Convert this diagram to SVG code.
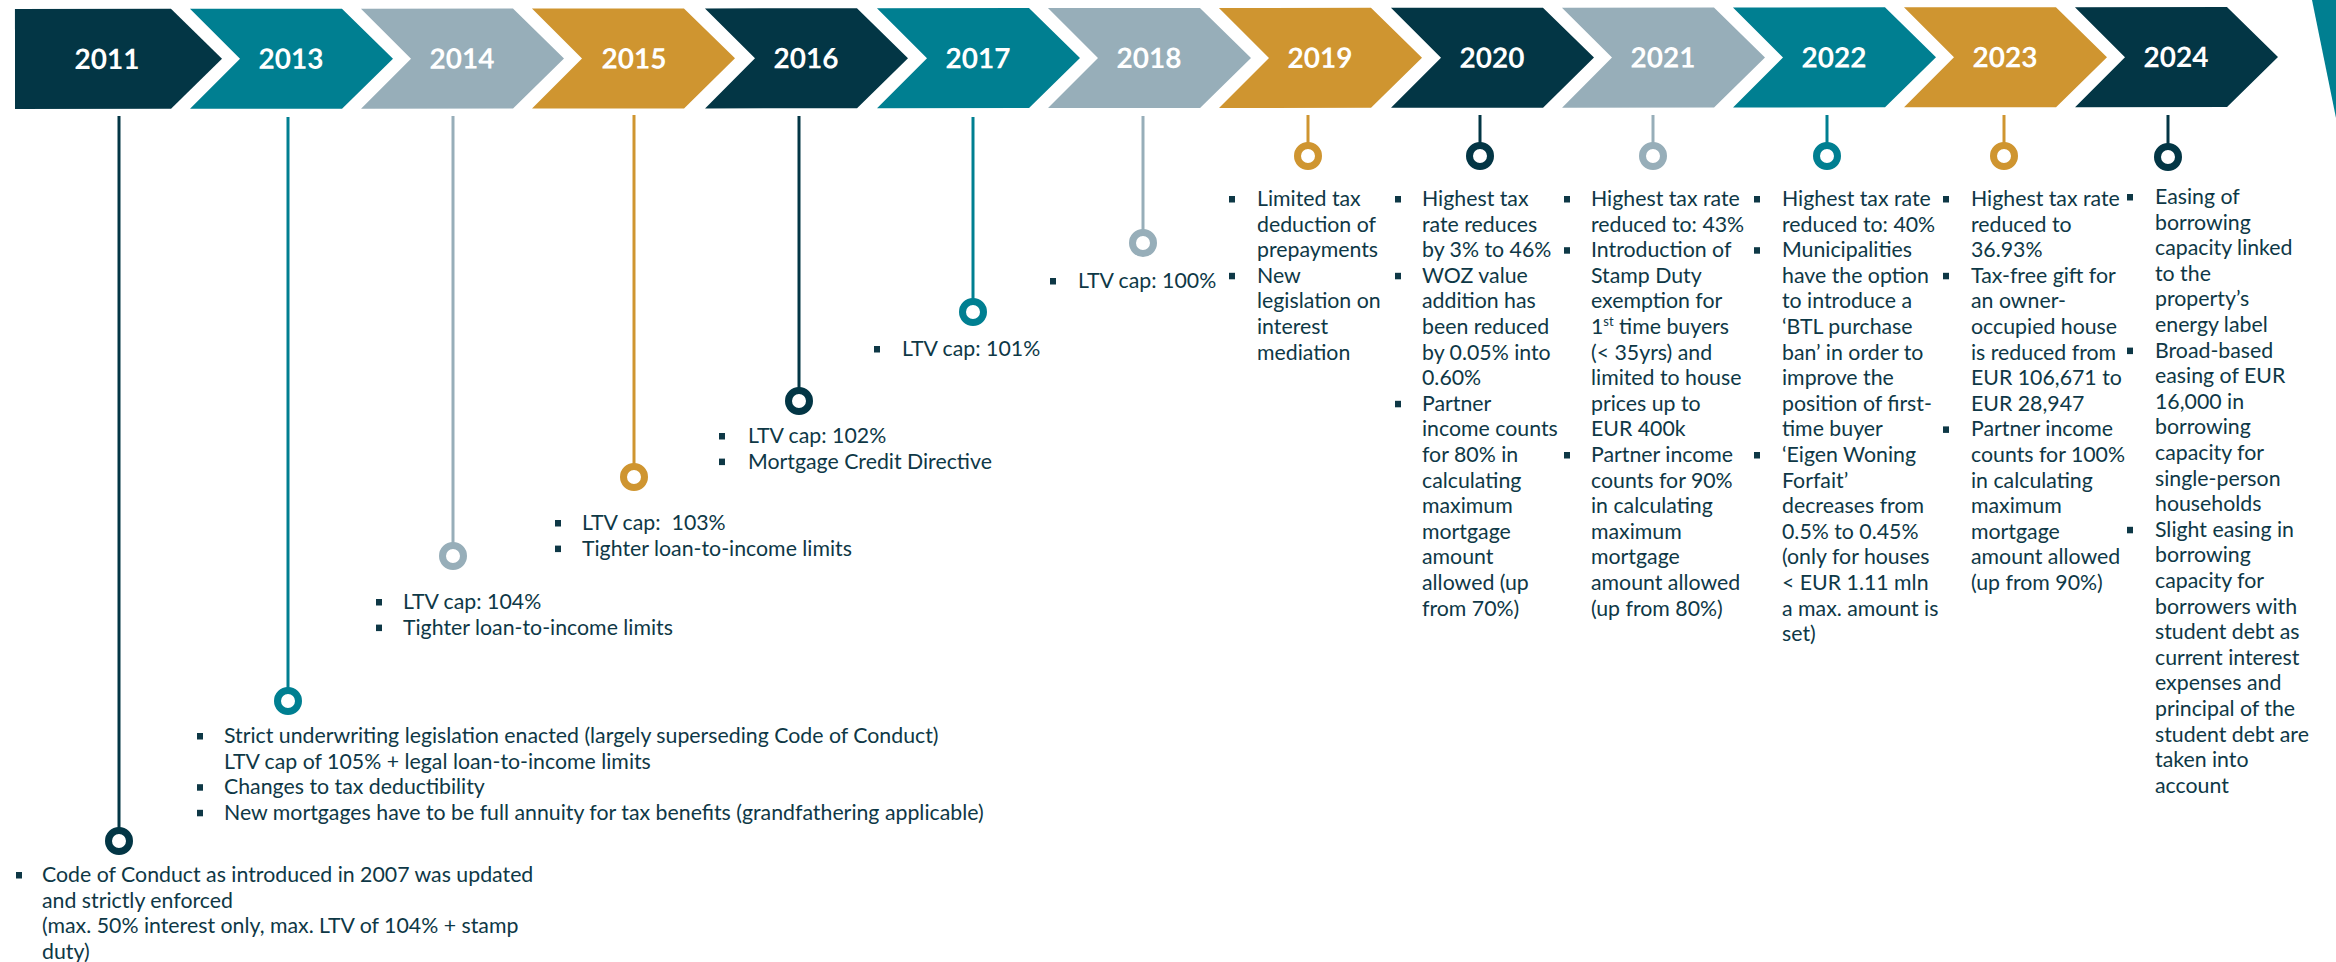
<svg xmlns="http://www.w3.org/2000/svg" width="2336" height="962" viewBox="0 0 2336 962">
<style>
.dk{fill:#033645}.tl{fill:#007F91}.gy{fill:#97AEB9}.gd{fill:#CF9530}
.sdk{stroke:#033645}.stl{stroke:#007F91}.sgy{stroke:#97AEB9}.sgd{stroke:#CF9530}
.yr{font-family:Lato,"Liberation Sans",sans-serif;font-weight:700;font-size:28px;fill:#ffffff;text-anchor:middle}
.t{font-family:Lato,"Liberation Sans",sans-serif;font-size:21.3px;fill:#0E3846}
.ring{fill:#ffffff;stroke-width:7}
.stem{stroke-width:3;fill:none}
.b{fill:#0E3846}
</style>
<rect width="2336" height="962" fill="#ffffff"/>
<polygon points="2312,0 2336,0 2336,118" class="tl"/>
<g id="banner" transform="rotate(-0.05 1150 58)">
<g id="y2011"><polygon class="dk" points="15,8 171,8 222,58 171,108 15,108"/><text class="yr" x="107" y="68">2011</text></g>
<g id="y2013"><polygon class="tl" points="190,8 342,8 393,58 342,108 190,108 240,58"/><text class="yr" x="291" y="68">2013</text></g>
<g id="y2014"><polygon class="gy" points="361,8 513,8 564,58 513,108 361,108 411,58"/><text class="yr" x="462" y="68">2014</text></g>
<g id="y2015"><polygon class="gd" points="532,8 684,8 735,58 684,108 532,108 582,58"/><text class="yr" x="634" y="68">2015</text></g>
<g id="y2016"><polygon class="dk" points="705,8 857,8 908,58 857,108 705,108 755,58"/><text class="yr" x="806" y="68">2016</text></g>
<g id="y2017"><polygon class="tl" points="877,8 1029,8 1080,58 1029,108 877,108 927,58"/><text class="yr" x="978" y="68">2017</text></g>
<g id="y2018"><polygon class="gy" points="1048,8 1200,8 1251,58 1200,108 1048,108 1098,58"/><text class="yr" x="1149" y="68">2018</text></g>
<g id="y2019"><polygon class="gd" points="1219,8 1371,8 1422,58 1371,108 1219,108 1269,58"/><text class="yr" x="1320" y="68">2019</text></g>
<g id="y2020"><polygon class="dk" points="1391,8 1543,8 1594,58 1543,108 1391,108 1441,58"/><text class="yr" x="1492" y="68">2020</text></g>
<g id="y2021"><polygon class="gy" points="1562,8 1714,8 1765,58 1714,108 1562,108 1612,58"/><text class="yr" x="1663" y="68">2021</text></g>
<g id="y2022"><polygon class="tl" points="1733,8 1885,8 1936,58 1885,108 1733,108 1783,58"/><text class="yr" x="1834" y="68">2022</text></g>
<g id="y2023"><polygon class="gd" points="1904,8 2056,8 2107,58 2056,108 1904,108 1954,58"/><text class="yr" x="2005" y="68">2023</text></g>
<g id="y2024"><polygon class="dk" points="2075,8 2227,8 2278,58 2227,108 2075,108 2125,58"/><text class="yr" x="2176" y="68">2024</text></g>
</g>
<g id="connectors">
<line class="stem sdk" x1="119" y1="116" x2="119" y2="830"/>
<line class="stem stl" x1="288" y1="117" x2="288" y2="690"/>
<line class="stem sgy" x1="453" y1="116" x2="453" y2="545"/>
<line class="stem sgd" x1="634" y1="115" x2="634" y2="466"/>
<line class="stem sdk" x1="799" y1="116" x2="799" y2="390"/>
<line class="stem stl" x1="973" y1="117" x2="973" y2="301"/>
<line class="stem sgy" x1="1143" y1="116" x2="1143" y2="232"/>
<line class="stem sgd" x1="1308" y1="115" x2="1308" y2="145"/>
<line class="stem sdk" x1="1480" y1="115" x2="1480" y2="145"/>
<line class="stem sgy" x1="1653" y1="115" x2="1653" y2="145"/>
<line class="stem stl" x1="1827" y1="115" x2="1827" y2="145"/>
<line class="stem sgd" x1="2004" y1="115" x2="2004" y2="145"/>
<line class="stem sdk" x1="2168" y1="115" x2="2168" y2="146"/>
</g>
<g id="e2011">
<circle class="ring sdk" cx="119" cy="841" r="10.5"/>
<rect class="b" x="16" y="872" width="6" height="6.5"/>
<text class="t"><tspan x="42" y="882">Code of Conduct as introduced in 2007 was updated</tspan><tspan x="42" y="907.6">and strictly enforced</tspan><tspan x="42" y="933.2">(max. 50% interest only, max. LTV of 104% + stamp</tspan><tspan x="42" y="958.8">duty)</tspan></text>
</g>
<g id="e2013">
<circle class="ring stl" cx="288" cy="701" r="10.5"/>
<rect class="b" x="197" y="733" width="6" height="6.5"/>
<rect class="b" x="197" y="784.2" width="6" height="6.5"/>
<rect class="b" x="197" y="809.8" width="6" height="6.5"/>
<text class="t"><tspan x="224" y="743">Strict underwriting legislation enacted (largely superseding Code of Conduct)</tspan><tspan x="224" y="768.6">LTV cap of 105% + legal loan-to-income limits</tspan><tspan x="224" y="794.2">Changes to tax deductibility</tspan><tspan x="224" y="819.8">New mortgages have to be full annuity for tax benefits (grandfathering applicable)</tspan></text>
</g>
<g id="e2014">
<circle class="ring sgy" cx="453" cy="556" r="10.5"/>
<rect class="b" x="376" y="599" width="6" height="6.5"/>
<rect class="b" x="376" y="624.6" width="6" height="6.5"/>
<text class="t"><tspan x="403" y="609">LTV cap: 104%</tspan><tspan x="403" y="634.6">Tighter loan-to-income limits</tspan></text>
</g>
<g id="e2015">
<circle class="ring sgd" cx="634" cy="477" r="10.5"/>
<rect class="b" x="555" y="520" width="6" height="6.5"/>
<rect class="b" x="555" y="545.6" width="6" height="6.5"/>
<text class="t" xml:space="preserve"><tspan x="582" y="530">LTV cap:  103%</tspan><tspan x="582" y="555.6">Tighter loan-to-income limits</tspan></text>
</g>
<g id="e2016">
<circle class="ring sdk" cx="799" cy="401" r="10.5"/>
<rect class="b" x="719" y="433" width="6" height="6.5"/>
<rect class="b" x="719" y="458.6" width="6" height="6.5"/>
<text class="t"><tspan x="748" y="443">LTV cap: 102%</tspan><tspan x="748" y="468.6">Mortgage Credit Directive</tspan></text>
</g>
<g id="e2017">
<circle class="ring stl" cx="973" cy="312" r="10.5"/>
<rect class="b" x="874" y="346" width="6" height="6.5"/>
<text class="t"><tspan x="902" y="356">LTV cap: 101%</tspan></text>
</g>
<g id="e2018">
<circle class="ring sgy" cx="1143" cy="243" r="10.5"/>
<rect class="b" x="1050" y="278" width="6" height="6.5"/>
<text class="t"><tspan x="1078" y="288">LTV cap: 100%</tspan></text>
</g>
<g id="e2019">
<circle class="ring sgd" cx="1308" cy="156" r="10.5"/>
<rect class="b" x="1229" y="196" width="6" height="6.5"/>
<rect class="b" x="1229" y="272.8" width="6" height="6.5"/>
<text class="t"><tspan x="1257" y="206">Limited tax</tspan><tspan x="1257" y="231.6">deduction of</tspan><tspan x="1257" y="257.2">prepayments</tspan><tspan x="1257" y="282.8">New</tspan><tspan x="1257" y="308.4">legislation on</tspan><tspan x="1257" y="334">interest</tspan><tspan x="1257" y="359.6">mediation</tspan></text>
</g>
<g id="e2020">
<circle class="ring sdk" cx="1480" cy="156" r="10.5"/>
<rect class="b" x="1395" y="196" width="6" height="6.5"/>
<rect class="b" x="1395" y="272.8" width="6" height="6.5"/>
<rect class="b" x="1395" y="400.8" width="6" height="6.5"/>
<text class="t"><tspan x="1422" y="206">Highest tax</tspan><tspan x="1422" y="231.6">rate reduces</tspan><tspan x="1422" y="257.2">by 3% to 46%</tspan><tspan x="1422" y="282.8">WOZ value</tspan><tspan x="1422" y="308.4">addition has</tspan><tspan x="1422" y="334">been reduced</tspan><tspan x="1422" y="359.6">by 0.05% into</tspan><tspan x="1422" y="385.2">0.60%</tspan><tspan x="1422" y="410.8">Partner</tspan><tspan x="1422" y="436.4">income counts</tspan><tspan x="1422" y="462">for 80% in</tspan><tspan x="1422" y="487.6">calculating</tspan><tspan x="1422" y="513.2">maximum</tspan><tspan x="1422" y="538.8">mortgage</tspan><tspan x="1422" y="564.4">amount</tspan><tspan x="1422" y="590">allowed (up</tspan><tspan x="1422" y="615.6">from 70%)</tspan></text>
</g>
<g id="e2021">
<circle class="ring sgy" cx="1653" cy="156" r="10.5"/>
<rect class="b" x="1564" y="196" width="6" height="6.5"/>
<rect class="b" x="1564" y="247.2" width="6" height="6.5"/>
<rect class="b" x="1564" y="452" width="6" height="6.5"/>
<text class="t"><tspan x="1591" y="206">Highest tax rate</tspan><tspan x="1591" y="231.6">reduced to: 43%</tspan><tspan x="1591" y="257.2">Introduction of</tspan><tspan x="1591" y="282.8">Stamp Duty</tspan><tspan x="1591" y="308.4">exemption for</tspan><tspan x="1591" y="334">1</tspan><tspan font-size="13" dy="-8">st</tspan><tspan dy="8"> time buyers</tspan><tspan x="1591" y="359.6">(&lt; 35yrs) and</tspan><tspan x="1591" y="385.2">limited to house</tspan><tspan x="1591" y="410.8">prices up to</tspan><tspan x="1591" y="436.4">EUR 400k</tspan><tspan x="1591" y="462">Partner income</tspan><tspan x="1591" y="487.6">counts for 90%</tspan><tspan x="1591" y="513.2">in calculating</tspan><tspan x="1591" y="538.8">maximum</tspan><tspan x="1591" y="564.4">mortgage</tspan><tspan x="1591" y="590">amount allowed</tspan><tspan x="1591" y="615.6">(up from 80%)</tspan></text>
</g>
<g id="e2022">
<circle class="ring stl" cx="1827" cy="156" r="10.5"/>
<rect class="b" x="1754" y="196" width="6" height="6.5"/>
<rect class="b" x="1754" y="247.2" width="6" height="6.5"/>
<rect class="b" x="1754" y="452" width="6" height="6.5"/>
<text class="t"><tspan x="1782" y="206">Highest tax rate</tspan><tspan x="1782" y="231.6">reduced to: 40%</tspan><tspan x="1782" y="257.2">Municipalities</tspan><tspan x="1782" y="282.8">have the option</tspan><tspan x="1782" y="308.4">to introduce a</tspan><tspan x="1782" y="334">‘BTL purchase</tspan><tspan x="1782" y="359.6">ban’ in order to</tspan><tspan x="1782" y="385.2">improve the</tspan><tspan x="1782" y="410.8">position of first-</tspan><tspan x="1782" y="436.4">time buyer</tspan><tspan x="1782" y="462">‘Eigen Woning</tspan><tspan x="1782" y="487.6">Forfait’</tspan><tspan x="1782" y="513.2">decreases from</tspan><tspan x="1782" y="538.8">0.5% to 0.45%</tspan><tspan x="1782" y="564.4">(only for houses</tspan><tspan x="1782" y="590">&lt; EUR 1.11 mln</tspan><tspan x="1782" y="615.6">a max. amount is</tspan><tspan x="1782" y="641.2">set)</tspan></text>
</g>
<g id="e2023">
<circle class="ring sgd" cx="2004" cy="156" r="10.5"/>
<rect class="b" x="1943" y="196" width="6" height="6.5"/>
<rect class="b" x="1943" y="272.8" width="6" height="6.5"/>
<rect class="b" x="1943" y="426.4" width="6" height="6.5"/>
<text class="t"><tspan x="1971" y="206">Highest tax rate</tspan><tspan x="1971" y="231.6">reduced to</tspan><tspan x="1971" y="257.2">36.93%</tspan><tspan x="1971" y="282.8">Tax-free gift for</tspan><tspan x="1971" y="308.4">an owner-</tspan><tspan x="1971" y="334">occupied house</tspan><tspan x="1971" y="359.6">is reduced from</tspan><tspan x="1971" y="385.2">EUR 106,671 to</tspan><tspan x="1971" y="410.8">EUR 28,947</tspan><tspan x="1971" y="436.4">Partner income</tspan><tspan x="1971" y="462">counts for 100%</tspan><tspan x="1971" y="487.6">in calculating</tspan><tspan x="1971" y="513.2">maximum</tspan><tspan x="1971" y="538.8">mortgage</tspan><tspan x="1971" y="564.4">amount allowed</tspan><tspan x="1971" y="590">(up from 90%)</tspan></text>
</g>
<g id="e2024">
<circle class="ring sdk" cx="2168" cy="157" r="10.5"/>
<rect class="b" x="2127" y="194" width="6" height="6.5"/>
<rect class="b" x="2127" y="347.6" width="6" height="6.5"/>
<rect class="b" x="2127" y="526.8" width="6" height="6.5"/>
<text class="t"><tspan x="2155" y="204">Easing of</tspan><tspan x="2155" y="229.6">borrowing</tspan><tspan x="2155" y="255.2">capacity linked</tspan><tspan x="2155" y="280.8">to the</tspan><tspan x="2155" y="306.4">property’s</tspan><tspan x="2155" y="332">energy label</tspan><tspan x="2155" y="357.6">Broad-based</tspan><tspan x="2155" y="383.2">easing of EUR</tspan><tspan x="2155" y="408.8">16,000 in</tspan><tspan x="2155" y="434.4">borrowing</tspan><tspan x="2155" y="460">capacity for</tspan><tspan x="2155" y="485.6">single-person</tspan><tspan x="2155" y="511.2">households</tspan><tspan x="2155" y="536.8">Slight easing in</tspan><tspan x="2155" y="562.4">borrowing</tspan><tspan x="2155" y="588">capacity for</tspan><tspan x="2155" y="613.6">borrowers with</tspan><tspan x="2155" y="639.2">student debt as</tspan><tspan x="2155" y="664.8">current interest</tspan><tspan x="2155" y="690.4">expenses and</tspan><tspan x="2155" y="716">principal of the</tspan><tspan x="2155" y="741.6">student debt are</tspan><tspan x="2155" y="767.2">taken into</tspan><tspan x="2155" y="792.8">account</tspan></text>
</g>
</svg>
